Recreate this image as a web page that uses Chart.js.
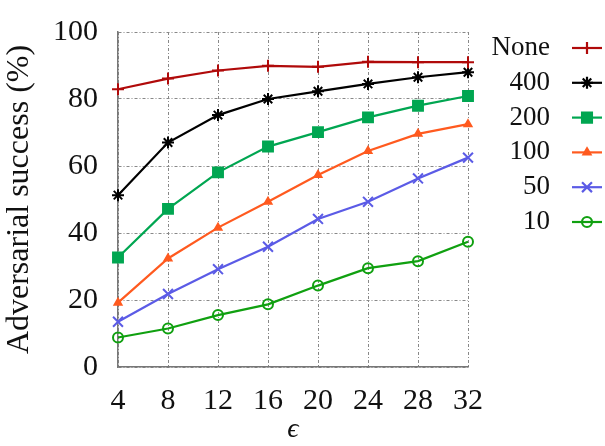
<!DOCTYPE html>
<html>
<head>
<meta charset="utf-8">
<script src="https://cdn.jsdelivr.net/npm/chart.js@4/dist/chart.umd.min.js"></script>
<style>
  html, body { margin: 0; padding: 0; background: #fff; }
  #wrap { width: 605px; height: 446px; }
</style>
</head>
<body>
<div id="wrap"><canvas id="c" width="605" height="446"></canvas></div>
<script>
// Perturbation budget on the x axis
const epsilons = [4, 8, 12, 16, 20, 24, 28, 32];

// Adversarial success (%) for each setting
const successNone = [82.9, 86.1, 88.5, 89.9, 89.6, 91.1, 91.0, 91.0];
const success400  = [51.3, 67.0, 75.2, 80.0, 82.3, 84.5, 86.5, 88.0];
const success200  = [32.7, 47.2, 58.1, 65.8, 70.1, 74.5, 78.0, 80.9];
const success100  = [19.2, 32.4, 41.6, 49.3, 57.3, 64.5, 69.6, 72.5];
const success50   = [13.5, 21.8, 29.2, 35.9, 44.2, 49.3, 56.3, 62.5];
const success10   = [8.8, 11.5, 15.5, 18.7, 24.3, 29.5, 31.6, 37.4];

const seriesNames = ['None', '400', '200', '100', '50', '10'];
const yTicks = [0, 20, 40, 60, 80, 100];

const SERIF = "'Liberation Serif', 'DejaVu Serif', serif";

function ds(label, data, color, style, radius, fill) {
  return {
    label, data,
    borderColor: color,
    backgroundColor: color,
    borderWidth: 2.2,
    pointStyle: style,
    pointRadius: radius,
    pointHoverRadius: radius,
    pointBorderColor: color,
    pointBackgroundColor: fill ? color : 'rgba(0,0,0,0)',
    pointBorderWidth: 2,
    tension: 0,
    fill: false,
    clip: false
  };
}

const datasets = [
  ds(seriesNames[0], successNone, '#b00a0a', 'cross', 6, true),
  ds(seriesNames[1], success400, '#000000', 'star', 6, true),
  ds(seriesNames[2], success200, '#00a651', 'rect', 7, true),
  ds(seriesNames[3], success100, '#ff5a1f', 'triangle', 4, true),
  ds(seriesNames[4], success50, '#5b5be6', 'crossRot', 7, true),
  ds(seriesNames[5], success10, '#10a010', 'circle', 5, false)
];

// Legend with labels on the left and line samples on the right
const sideLegend = {
  id: 'sideLegend',
  afterDraw(chart) {
    const ctx = chart.ctx;
    ctx.save();
    chart.data.datasets.forEach((d, i) => {
      const y = 48 + i * 34.8;
      ctx.fillStyle = '#111';
      ctx.font = '27px ' + SERIF;
      ctx.textAlign = 'right';
      ctx.textBaseline = 'middle';
      ctx.fillText(d.label, 550, y);
      ctx.strokeStyle = d.borderColor;
      ctx.lineWidth = 2.2;
      ctx.beginPath();
      ctx.moveTo(572, y);
      ctx.lineTo(602, y);
      ctx.stroke();
      ctx.fillStyle = d.pointBackgroundColor;
      Chart.helpers.drawPoint(ctx, {
        pointStyle: d.pointStyle,
        radius: d.pointRadius,
        borderWidth: d.pointBorderWidth,
        rotation: 0
      }, 587, y);
    });
    ctx.restore();
  }
};

new Chart(document.getElementById('c'), {
  type: 'line',
  data: { labels: epsilons, datasets },
  options: {
    responsive: false,
    animation: false,
    devicePixelRatio: 1,
    layout: { padding: { top: 32, right: 137, left: 0, bottom: 0 } },
    plugins: { legend: { display: false }, tooltip: { enabled: false } },
    scales: {
      x: {
        type: 'category',
        offset: false,
        grid: { color: '#888', lineWidth: 1, drawTicks: false },
        border: { display: true, color: '#777', width: 1.5, dash: [3, 2, 1, 2] },
        ticks: {
          color: '#111',
          font: { family: SERIF, size: 30 },
          padding: 16,
          maxRotation: 0
        },
        title: {
          display: true,
          text: 'ϵ',
          color: '#111',
          font: { family: SERIF, size: 28, style: 'italic' },
          padding: { top: 0, bottom: 0 }
        },
        afterFit(scale) { scale.height = 446 - 367; }
      },
      y: {
        min: 0, max: 100,
        afterBuildTicks(scale) { scale.ticks = yTicks.map(v => ({ value: v })); },
        grid: { color: '#888', lineWidth: 1, drawTicks: false },
        border: { display: true, color: '#777', width: 1.5, dash: [3, 2, 1, 2] },
        ticks: {
          color: '#111',
          font: { family: SERIF, size: 30 },
          padding: 20
        },
        title: {
          display: true,
          text: 'Adversarial success (%)',
          color: '#111',
          font: { family: SERIF, size: 32 },
          padding: { top: 0, bottom: 4 }
        },
        afterFit(scale) {
          scale.width = 118;
          scale.paddingTop = 0;
          scale.paddingBottom = 0;
        }
      }
    }
  },
  plugins: [sideLegend]
});
</script>
</body>
</html>
